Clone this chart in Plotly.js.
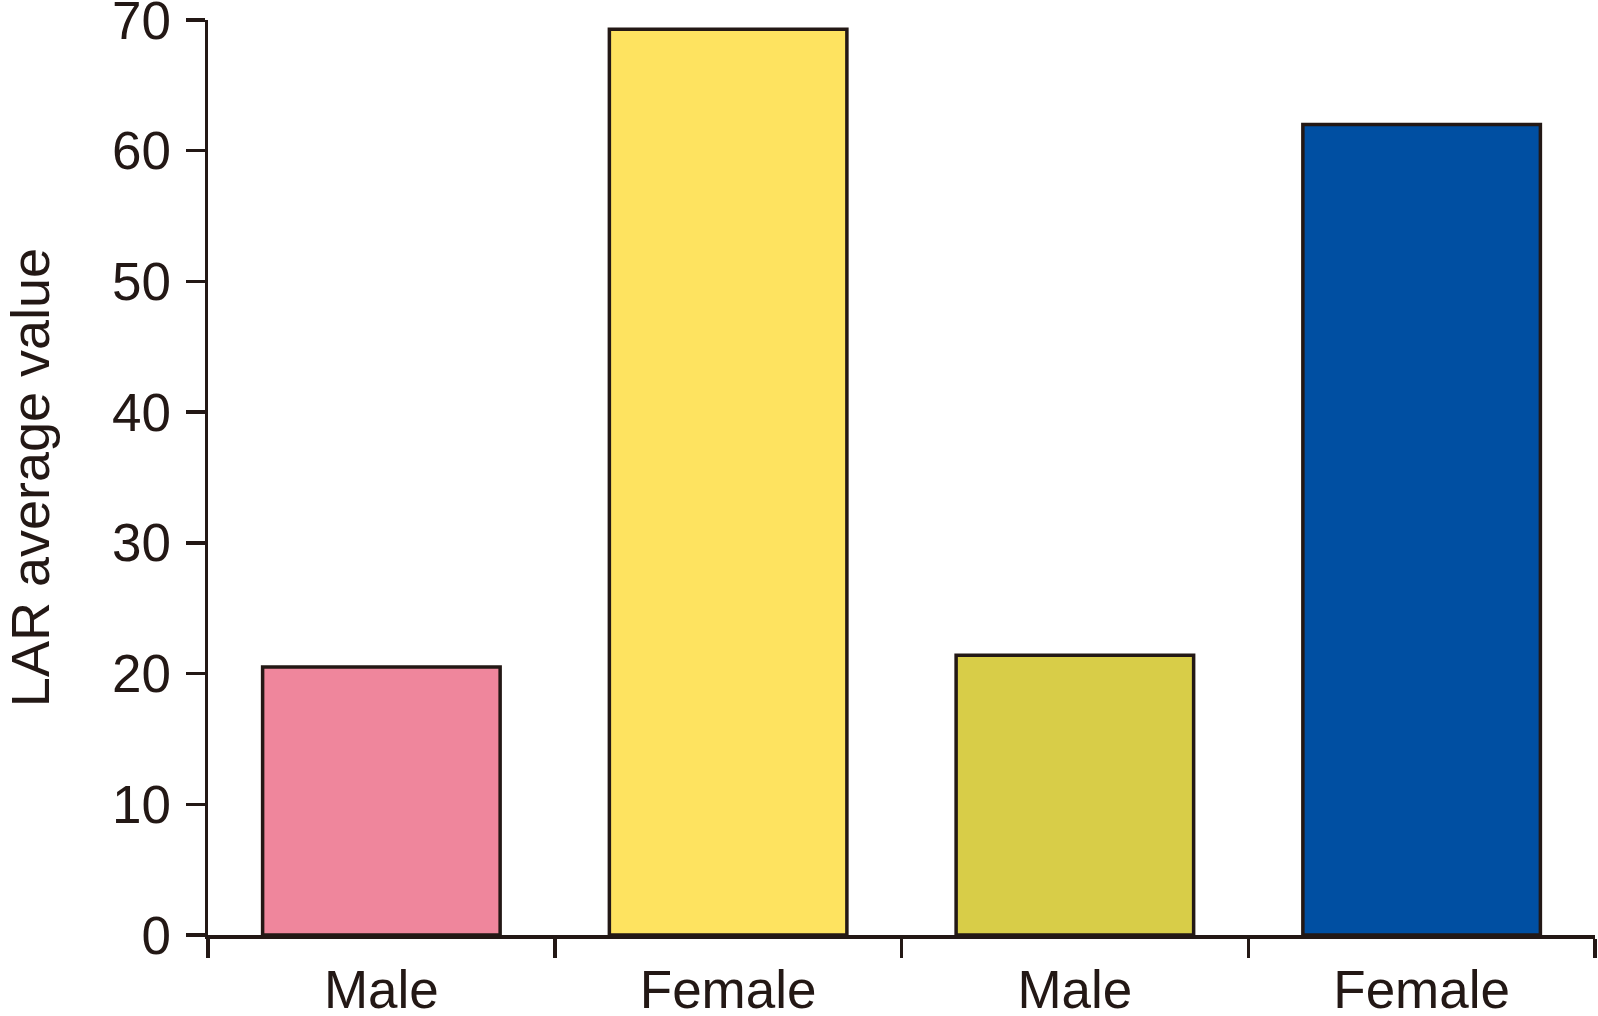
<!DOCTYPE html>
<html>
<head>
<meta charset="utf-8">
<script src="https://cdn.plot.ly/plotly-3.0.1.min.js"></script>
<style>
html,body{margin:0;padding:0;background:#fff;}
#chart{width:1598px;height:1016px;}
</style>
</head>
<body>
<div id="chart"></div>
<script>
const categories = ["Male", "Female", "Male", "Female"];
const positions = [0, 1, 2, 3];
const values = [20.5, 69.3, 21.4, 62.0];
const colors = ["#EF869C", "#FEE360", "#D8CD48", "#004FA2"];
const yTicks = [0, 10, 20, 30, 40, 50, 60, 70];
const boundaries = [-0.5, 0.5, 1.5, 2.5, 3.5];

const ink = "#231815";
const fontFam = "Liberation Sans, Arial, Helvetica, sans-serif";

const trace = {
  type: "bar",
  x: positions,
  y: values,
  width: 0.685,
  marker: {color: colors, line: {color: ink, width: 3.5}},
  hoverinfo: "none"
};

const layout = {
  width: 1598,
  height: 1016,
  margin: {l: 208, r: 3, t: 20, b: 81, pad: 0},
  paper_bgcolor: "#fff",
  plot_bgcolor: "#fff",
  showlegend: false,
  font: {family: fontFam, color: ink, size: 53},
  xaxis: {
    range: [-0.5, 3.5],
    tickmode: "array",
    tickvals: boundaries,
    ticktext: boundaries.map(() => ""),
    ticks: "outside",
    ticklen: 19,
    tickwidth: 3.5,
    tickcolor: ink,
    showline: true,
    linecolor: ink,
    linewidth: 3.5,
    showgrid: false,
    zeroline: false,
    fixedrange: true
  },
  xaxis2: {
    overlaying: "x",
    side: "bottom",
    range: [-0.5, 3.5],
    tickmode: "array",
    tickvals: positions,
    ticktext: categories,
    ticks: "",
    showline: false,
    showgrid: false,
    zeroline: false,
    tickfont: {family: fontFam, size: 53, color: ink},
    ticklabelstandoff: 19,
    ticklabeloverflow: "allow",
    fixedrange: true
  },
  yaxis: {
    range: [0, 70],
    tickmode: "array",
    tickvals: yTicks,
    ticks: "outside",
    ticklen: 19,
    tickwidth: 3.5,
    tickcolor: ink,
    showline: true,
    linecolor: ink,
    linewidth: 3.5,
    showgrid: false,
    zeroline: false,
    tickfont: {family: fontFam, size: 53, color: ink},
    ticklabelstandoff: 4,
    ticklabeloverflow: "allow",
    title: {text: "LAR average value", font: {family: fontFam, size: 54, color: ink}, standoff: 66},
    automargin: false,
    fixedrange: true
  }
};

const labelTrace = {
  type: "scatter",
  x: positions,
  y: values,
  xaxis: "x2",
  mode: "markers",
  marker: {opacity: 0},
  hoverinfo: "none"
};

Plotly.newPlot("chart", [trace, labelTrace], layout, {displayModeBar: false, staticPlot: true});
</script>
</body>
</html>
